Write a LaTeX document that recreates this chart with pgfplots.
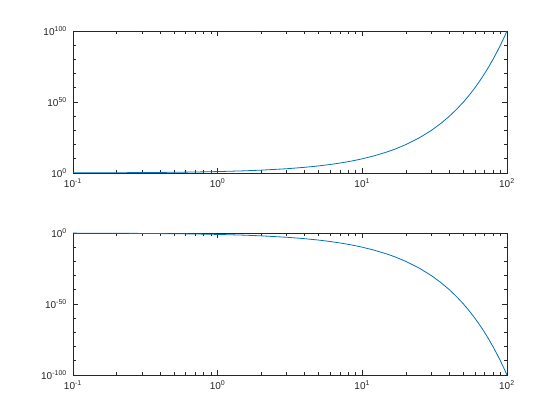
\documentclass[border=0pt]{standalone}
\usepackage{pgfplots}
\pgfplotsset{compat=1.18}
\usepackage{fontspec}
\setmainfont{Liberation Sans}
\definecolor{mblue}{rgb}{0,0.447,0.741}
\definecolor{mgray}{rgb}{0.15,0.15,0.15}
\pgfplotsset{
  mstyle/.style={
    width=325.5pt, height=106.5pt, scale only axis,
    xmin=0.1, xmax=100,
    axis line style={mgray, line width=0.5pt},
    tick style={mgray, line width=0.5pt},
    major tick length=3.5pt, minor tick length=2.2pt,
    tick align=inside,
    xtick pos=both, ytick pos=both,
    ticklabel style={font=\fontsize{7.5}{8}\selectfont, text=mgray},
    xtick={0.1,1,10,100},
    xticklabels={10\textsuperscript{-1},10\textsuperscript{0},10\textsuperscript{1},10\textsuperscript{2}},
    xticklabel style={yshift=-1pt},
    yticklabel style={xshift=-1pt},
  }
}
\begin{document}
\begin{tikzpicture}
\useasboundingbox (0,0) rectangle (420pt,315pt);
\begin{loglogaxis}[mstyle, at={(54.75pt,185.25pt)}, anchor=south west,
  ymin=1, ymax=1e100,
  ytick={1,1e50,1e100},
  yticklabels={10\textsuperscript{0},10\textsuperscript{50},10\textsuperscript{100}},
  minor ytick={1e10,1e20,1e30,1e40,1e60,1e70,1e80,1e90},
]
\addplot[mblue, line width=0.6pt] coordinates {
(0.1,1.2589)(0.2,1.5849)(0.3,1.9953)(0.5,3.1623)(0.7,5.0119)(1,10)(1.5,31.623)(2,100)
(3,1e3)(4,1e4)(5,1e5)(6,1e6)(7,1e7)(8,1e8)(9,1e9)(10,1e10)(12,1e12)(15,1e15)(17,1e17)
(20,1e20)(25,1e25)(30,1e30)(35,1e35)(40,1e40)(45,1e45)(50,1e50)(55,1e55)(60,1e60)
(65,1e65)(70,1e70)(75,1e75)(80,1e80)(85,1e85)(90,1e90)(95,1e95)(100,1e100)
};
\end{loglogaxis}
\begin{loglogaxis}[mstyle, at={(54.75pt,33.75pt)}, anchor=south west,
  ymin=1e-100, ymax=1,
  ytick={1e-100,1e-50,1},
  yticklabels={10\textsuperscript{-100},10\textsuperscript{-50},10\textsuperscript{0}},
  minor ytick={1e-90,1e-80,1e-70,1e-60,1e-40,1e-30,1e-20,1e-10},
]
\addplot[mblue, line width=0.6pt] coordinates {
(0.1,0.79433)(0.2,0.63096)(0.3,0.50119)(0.5,0.31623)(0.7,0.19953)(1,0.1)(1.5,0.031623)(2,0.01)
(3,1e-3)(4,1e-4)(5,1e-5)(6,1e-6)(7,1e-7)(8,1e-8)(9,1e-9)(10,1e-10)(12,1e-12)(15,1e-15)(17,1e-17)
(20,1e-20)(25,1e-25)(30,1e-30)(35,1e-35)(40,1e-40)(45,1e-45)(50,1e-50)(55,1e-55)(60,1e-60)
(65,1e-65)(70,1e-70)(75,1e-75)(80,1e-80)(85,1e-85)(90,1e-90)(95,1e-95)(100,1e-100)
};
\end{loglogaxis}
\end{tikzpicture}
\end{document}
